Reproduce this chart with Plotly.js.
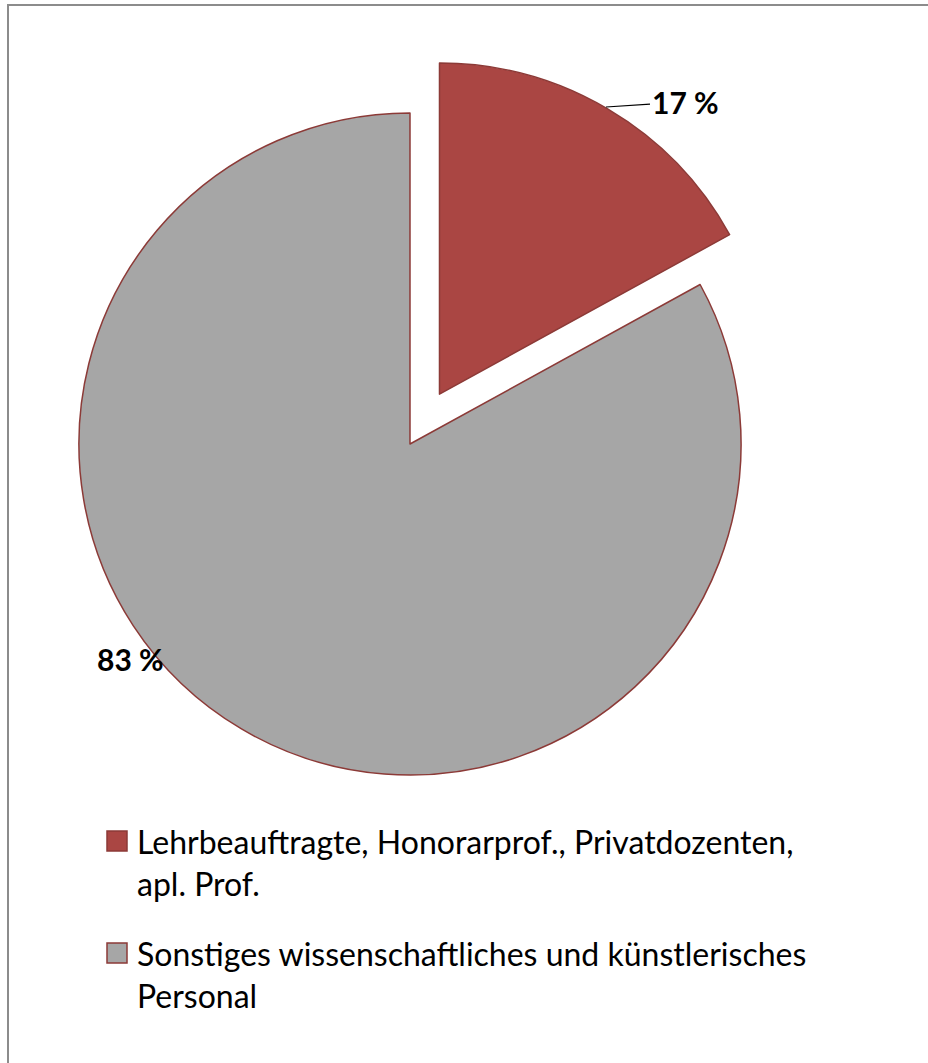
<!DOCTYPE html>
<html><head><meta charset="utf-8">
<script src="https://cdn.plot.ly/plotly-3.0.1.min.js"></script>
<style>html,body{margin:0;padding:0;background:#fff;}#chart{width:928px;height:1063px;}</style>
</head><body><div id="chart"></div>
<script>
const categories = ['Lehrbeauftragte, Honorarprof., Privatdozenten,<br>apl. Prof.', 'Sonstiges wissenschaftliches und künstlerisches<br>Personal'];
const shares = [17, 83];
const sliceColors = ['#AA4643', '#A6A6A6'];
const pull = [0.175, 0];
const percentLabels = shares.map(v => v + ' %');

const W = 928, H = 1063;
const px = x => x / W, py = y => 1 - y / H;

const trace = {
  type: 'pie', values: shares, labels: categories, sort: false,
  direction: 'clockwise', rotation: 0, pull: pull,
  marker: {colors: sliceColors, line: {color: '#8C3A37', width: 1.5}},
  textinfo: 'none', hoverinfo: 'label+percent', showlegend: false,
  domain: {x: [px(21), px(799)], y: [py(833), py(55)]}
};

const fontFam = 'Lato, "Open Sans", sans-serif';
const annotations = [
  {x: px(606), y: py(107), xref: 'paper', yref: 'paper', text: '<b>' + percentLabels[0] + '</b>',
   showarrow: true, arrowhead: 0, arrowwidth: 1.2, arrowcolor: '#000', ax: 79, ay: -5,
   font: {family: fontFam, size: 30, color: '#000'}},
  {x: px(130), y: py(659), xref: 'paper', yref: 'paper', xanchor: 'center', yanchor: 'middle',
   text: '<b>' + percentLabels[1] + '</b>',
   showarrow: false, font: {family: fontFam, size: 30, color: '#000'}}
];
const shapes = [
  {type: 'path', xref: 'paper', yref: 'paper', path: `M${px(8)},${py(1070)} L${px(8)},${py(5)} L${px(935)},${py(5)}`,
   line: {color: '#8C8C8C', width: 2}}
];
const legendTop = [831, 943];
categories.forEach((c, i) => {
  const t = legendTop[i];
  shapes.push({type: 'rect', xref: 'paper', yref: 'paper', x0: px(107), x1: px(127), y0: py(t + 20), y1: py(t),
    fillcolor: sliceColors[i], line: {color: '#8C3A37', width: 1.5}});
  annotations.push({x: px(136), y: py(t - 10), xref: 'paper', yref: 'paper', xanchor: 'left', yanchor: 'top',
    align: 'left', showarrow: false, text: c, borderpad: 0,
    font: {family: fontFam, size: 32, color: '#000'}});
});

Plotly.newPlot('chart', [trace], {
  width: W, height: H, margin: {l: 0, r: 0, t: 0, b: 0},
  paper_bgcolor: '#fff', showlegend: false, annotations: annotations, shapes: shapes
}, {displayModeBar: false, staticPlot: true});
</script></body></html>
